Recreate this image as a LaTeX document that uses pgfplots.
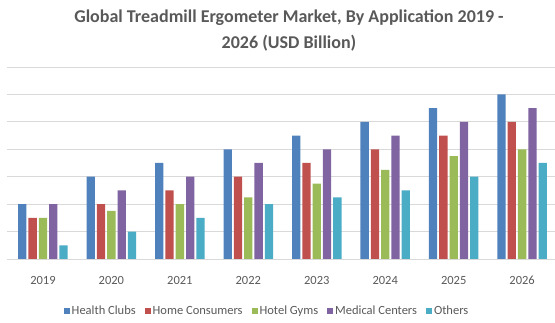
\documentclass[border=0pt]{standalone}
\usepackage{pgfplots}
\pgfplotsset{compat=1.18}
\usepackage{fontspec}
\setmainfont{Carlito}
\definecolor{cA}{HTML}{4F81BD}
\definecolor{cB}{HTML}{C0504D}
\definecolor{cC}{HTML}{9BBB59}
\definecolor{cD}{HTML}{8064A2}
\definecolor{cE}{HTML}{4BACC6}
\definecolor{txt}{HTML}{595959}
\definecolor{gridc}{HTML}{D9D9D9}
\begin{document}
\begin{tikzpicture}
\begin{axis}[
  scale only axis,
  width=548pt, height=192pt,
  ybar=2pt, bar width=8.3pt,
  xmin=-0.525, xmax=7.48,
  ymin=0, ymax=7,
  xtick={0,...,7},
  xticklabels={2019,2020,2021,2022,2023,2024,2025,2026},
  ytick={0,...,7}, yticklabels={},
  ymajorgrids, grid style={gridc, line width=0.8pt},
  axis line style={draw=none},
  major tick length=0pt,
  /pgf/number format/assume math mode=true,
  xticklabel style={font=\fontsize{12.5}{14}\selectfont, text=txt, yshift=-14pt},
  title={Global Treadmill Ergometer Market, By Application 2019 -\\2026 (USD Billion)},
  title style={at={(0.5146,1)}, anchor=center, yshift=30pt, align=center,
    font=\fontsize{18}{26}\selectfont\bfseries, text=txt},
  legend columns=5,
  legend style={at={(0.4745,-0.271)}, anchor=center, draw=none, fill=none,
    font=\fontsize{12.5}{14}\selectfont, text=txt,
    /tikz/every even column/.append style={column sep=7pt}},
  legend image code/.code={\fill[#1] (0pt,-3pt) rectangle (6pt,3pt);},
  every axis plot/.append style={draw=none},
]
\addplot[fill=cA] coordinates {(0,2) (1,3) (2,3.5) (3,4) (4,4.5) (5,5) (6,5.5) (7,6)};
\addplot[fill=cB] coordinates {(0,1.5) (1,2) (2,2.5) (3,3) (4,3.5) (5,4) (6,4.5) (7,5)};
\addplot[fill=cC] coordinates {(0,1.5) (1,1.75) (2,2) (3,2.25) (4,2.75) (5,3.25) (6,3.75) (7,4)};
\addplot[fill=cD] coordinates {(0,2) (1,2.5) (2,3) (3,3.5) (4,4) (5,4.5) (6,5) (7,5.5)};
\addplot[fill=cE] coordinates {(0,0.5) (1,1) (2,1.5) (3,2) (4,2.25) (5,2.5) (6,3) (7,3.5)};
\legend{Health Clubs, Home Consumers, Hotel Gyms, Medical Centers, Others}
\end{axis}
\pgfresetboundingbox
\path[use as bounding box] ([xshift=-7pt,yshift=-64pt]current axis.south west) rectangle ([yshift=67pt]current axis.north east);
\end{tikzpicture}
\end{document}
